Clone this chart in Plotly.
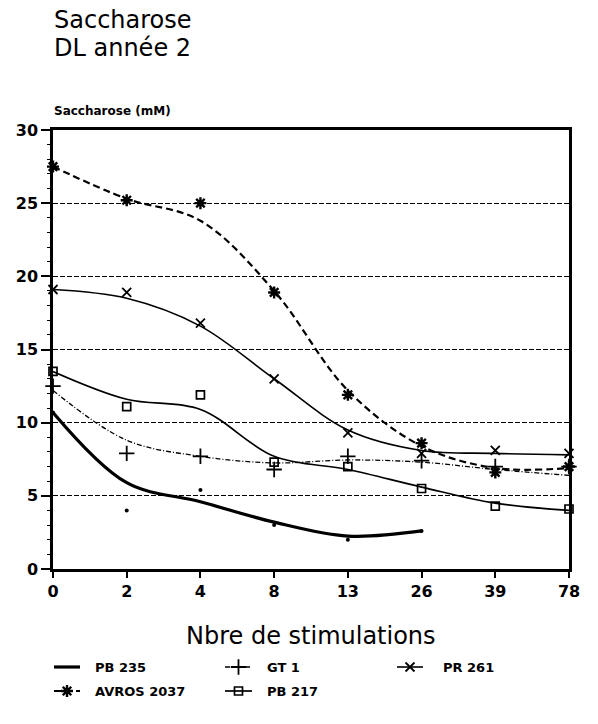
import plotly.graph_objects as go

# ---------------- data ----------------
categories = ["0", "2", "4", "8", "13", "26", "39", "78"]
y_tick_vals = [0, 5, 10, 15, 20, 25, 30]
series_names = ["PB 235", "GT 1", "PR 261", "AVROS 2037", "PB 217"]

# measured points (markers)
pb235_pts = [10.7, 4.0, 5.4, 3.0, 2.0, 2.6, None, None]
gt1_pts = [12.5, 7.9, 7.7, 6.8, 7.7, 7.4, 7.0, 7.0]
pr261_pts = [19.1, 18.9, 16.8, 13.0, 9.3, 7.9, 8.1, 7.9]
avros_pts = [27.5, 25.2, 25.0, 18.9, 11.9, 8.6, 6.6, 7.0]
pb217_pts = [13.5, 11.1, 11.9, 7.3, 7.0, 5.5, 4.3, 4.1]

# fitted curves, read at each category
pb235_fit = [10.7, 5.9, 4.6, 3.2, 2.25, 2.6, None, None]
gt1_fit = [12.2, 8.8, 7.7, 7.25, 7.45, 7.3, 6.8, 6.4]
pr261_fit = [19.1, 18.5, 16.6, 13.0, 9.5, 8.1, 7.9, 7.8]
avros_fit = [27.5, 25.3, 23.8, 19.0, 12.2, 8.4, 6.9, 6.9]
pb217_fit = [13.5, 11.6, 10.9, 7.7, 6.8, 5.6, 4.5, 4.0]

# ---------------- styles ----------------
W, H = 598, 724
ML, MR, MT, MB = 53, 29, 130, 24
PLOT_BOTTOM = 569
FONT = "DejaVu Sans"
K = "black"

styles = [
    dict(fit=pb235_fit, pts=pb235_pts, line=dict(color=K, width=3.2),
         marker=dict(symbol="circle", size=4, color=K)),
    dict(fit=gt1_fit, pts=gt1_pts, line=dict(color=K, width=1.3, dash="5px,2px,1px,2px"),
         marker=dict(symbol="cross-thin-open", size=11, color=K, line=dict(color=K, width=1.8))),
    dict(fit=pr261_fit, pts=pr261_pts, line=dict(color=K, width=1.6),
         marker=dict(symbol="x-thin-open", size=9, color=K, line=dict(color=K, width=1.8))),
    dict(fit=avros_fit, pts=avros_pts, line=dict(color=K, width=2.2, dash="7px,4px"),
         marker=dict(symbol="asterisk-open", size=10, color=K, line=dict(color=K, width=2.4))),
    dict(fit=pb217_fit, pts=pb217_pts, line=dict(color=K, width=1.7),
         marker=dict(symbol="square-open", size=8, color=K, line=dict(color=K, width=1.7))),
]

xs = list(range(len(categories)))
fig = go.Figure()

for st in styles:
    fig.add_trace(go.Scatter(x=xs, y=st["fit"], mode="lines",
                             line=dict(shape="spline", smoothing=1.0, **st["line"]),
                             hoverinfo="skip", showlegend=False))
    fig.add_trace(go.Scatter(x=xs, y=st["pts"], mode="markers", marker=st["marker"],
                             cliponaxis=False, showlegend=False))

# ---------------- manual legend (pixel-scaled helper axes) ----------------
leg_cols = [(54, 80, 93), (225, 252, 265), (397, 423, 441)]
leg_rows = [667, 691]
positions = [(0, 0), (0, 1), (0, 2), (1, 0), (1, 1)]
annotations = []
for st, name, (r, c) in zip(styles, series_names, positions):
    x0, x1, xt = leg_cols[c]
    yy = leg_rows[r]
    fig.add_trace(go.Scatter(x=[x0, x1], y=[yy, yy], mode="lines", line=st["line"],
                             xaxis="x2", yaxis="y2", showlegend=False, hoverinfo="skip"))
    if st["marker"]["symbol"] != "circle":
        fig.add_trace(go.Scatter(x=[(x0 + x1) / 2], y=[yy], mode="markers", marker=st["marker"],
                                 xaxis="x2", yaxis="y2", showlegend=False, cliponaxis=False,
                                 hoverinfo="skip"))
    annotations.append(dict(x=xt, y=yy, xref="x2", yref="y2", text=name, showarrow=False,
                            xanchor="left", yanchor="middle",
                            font=dict(family=FONT, size=13, color=K, weight="bold")))

paper_h = H - MT - MB
def py(pix):
    return (H - MB - pix) / paper_h

def px(pix):
    return (pix - ML) / (W - ML - MR)

annotations += [
    dict(text="Saccharose", x=px(52), y=py(20), xref="paper", yref="paper", showarrow=False,
         xanchor="left", yanchor="middle", font=dict(family=FONT, size=24, color=K)),
    dict(text="DL année 2", x=px(52), y=py(48), xref="paper", yref="paper", showarrow=False,
         xanchor="left", yanchor="middle", font=dict(family=FONT, size=24, color=K)),
    dict(text="Saccharose (mM)", x=px(52), y=py(111), xref="paper", yref="paper", showarrow=False,
         xanchor="left", yanchor="middle", font=dict(family=FONT, size=12, color=K, weight="bold")),
    dict(text="Nbre de stimulations", x=px(311), y=py(636), xref="paper", yref="paper",
         showarrow=False, xanchor="center", yanchor="middle",
         font=dict(family=FONT, size=24, color=K)),
]

fig.update_layout(
    width=W, height=H,
    margin=dict(l=ML, r=MR, t=MT, b=MB, pad=0),
    paper_bgcolor="white", plot_bgcolor="white",
    showlegend=False,
    annotations=annotations,
    xaxis=dict(range=[0, 7], tickvals=xs, ticktext=categories, showgrid=False, zeroline=False,
               showline=True, linecolor=K, linewidth=2.5, mirror=True,
               ticks="outside", ticklen=6, tickwidth=1.5, tickcolor=K,
               tickfont=dict(family=FONT, size=16, color=K, weight="bold"),
               anchor="y"),
    yaxis=dict(range=[0, 30], tickvals=y_tick_vals, domain=[py(PLOT_BOTTOM), 1],
               showgrid=True, gridcolor=K, gridwidth=1.2, griddash="5px,2px",
               zeroline=False, showline=True, linecolor=K, linewidth=2.5, mirror=True,
               ticks="outside", ticklen=9, tickwidth=1.5, tickcolor=K,
               minor=dict(ticks="outside", ticklen=3, dtick=1, tickcolor=K, tickwidth=1, showgrid=False),
               tickfont=dict(family=FONT, size=16, color=K, weight="bold")),
    xaxis2=dict(domain=[0, 1], range=[ML, W - MR], visible=False, anchor="y2"),
    yaxis2=dict(domain=[0, py(650)], range=[H - MB, 650], visible=False, anchor="x2"),
)

fig.write_html("out.html")
